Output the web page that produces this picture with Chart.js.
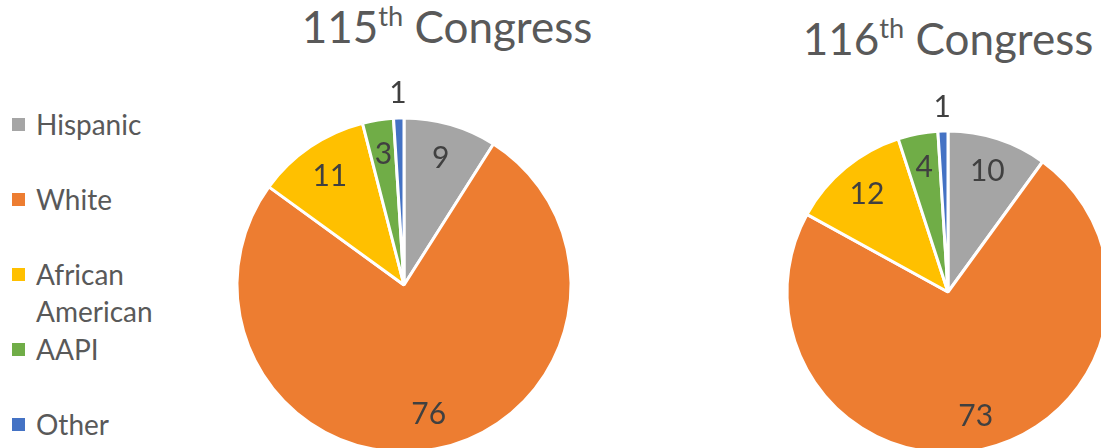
<!DOCTYPE html>
<html>
<head>
<meta charset="utf-8">
<script src="https://cdn.jsdelivr.net/npm/chart.js@4.4.1/dist/chart.umd.min.js"></script>
<style>
    html, body { margin: 0; padding: 0; background: #fff; }
    body { width: 1101px; height: 448px; overflow: hidden; position: relative; font-family: Lato, sans-serif; color: #595959; }
    .title { position: absolute; width: 400px; text-align: center; font-size: 44px; line-height: 48px; white-space: nowrap; }
    .title sup { font-size: 0.62em; line-height: 0; vertical-align: 0.62em; }
    .chart-box { position: absolute; width: 420px; height: 420px; }
    .legend-item { position: absolute; left: 12px; width: 170px; }
    .legend-swatch { position: absolute; left: 0; top: 12px; width: 13px; height: 13px; }
    .legend-label { margin-left: 24px; font-size: 28px; line-height: 37px; }
</style>
</head>
<body>
<div class="title" id="title1" style="left: 247px; top: 2px;"></div>
<div class="title" id="title2" style="left: 748px; top: 14px;"></div>
<div id="legend"></div>
<div class="chart-box" style="left: 194px; top: 75px;"><canvas id="pie1" width="420" height="420"></canvas></div>
<div class="chart-box" style="left: 738px; top: 82px;"><canvas id="pie2" width="420" height="420"></canvas></div>
<script>
// Data
const categories = ['Hispanic', 'White', 'African American', 'AAPI', 'Other'];
const congress115 = [9, 76, 11, 3, 1];
const congress116 = [10, 73, 12, 4, 1];
const titles = [['115', 'th', ' Congress'], ['116', 'th', ' Congress']];
const sliceColors = ['#A5A5A5', '#ED7D31', '#FFC000', '#70AD47', '#4472C4'];

// Titles with superscript
['title1', 'title2'].forEach((id, i) => {
    const t = titles[i];
    document.getElementById(id).innerHTML = `${t[0]}<sup>${t[1]}</sup>${t[2]}`;
});

// Legend
const legend = document.getElementById('legend');
categories.forEach((name, i) => {
    const item = document.createElement('div');
    item.className = 'legend-item';
    item.style.top = `${106 + i * 75}px`;
    item.innerHTML = `
        <div class="legend-swatch" style="background-color: ${sliceColors[i]}"></div>
        <div class="legend-label">${name}</div>
    `;
    legend.appendChild(item);
});

// Value labels drawn inside slices (tiny slices go outside)
const sliceLabels = {
    id: 'sliceLabels',
    afterDatasetsDraw(chart) {
        const ctx = chart.ctx;
        const meta = chart.getDatasetMeta(0);
        const values = chart.data.datasets[0].data;
        ctx.save();
        ctx.font = '30px Lato, sans-serif';
        ctx.fillStyle = '#404040';
        ctx.textAlign = 'center';
        ctx.textBaseline = 'middle';
        meta.data.forEach((arc, i) => {
            const mid = (arc.startAngle + arc.endAngle) / 2;
            const factor = values[i] <= 1 ? 1.15 : 0.79;
            const r = arc.outerRadius * factor;
            ctx.fillText(String(values[i]), arc.x + Math.cos(mid) * r, arc.y + Math.sin(mid) * r);
        });
        ctx.restore();
    }
};

function makePie(canvasId, values, radius) {
    return new Chart(document.getElementById(canvasId), {
        type: 'pie',
        data: {
            labels: categories,
            datasets: [{
                data: values,
                backgroundColor: sliceColors,
                borderColor: '#ffffff',
                borderWidth: 3
            }]
        },
        options: {
            responsive: false,
            animation: false,
            radius: radius,
            plugins: {
                legend: { display: false },
                tooltip: { enabled: false }
            }
        },
        plugins: [sliceLabels]
    });
}

makePie('pie1', congress115, 167);
makePie('pie2', congress116, 161);
</script>
</body>
</html>
